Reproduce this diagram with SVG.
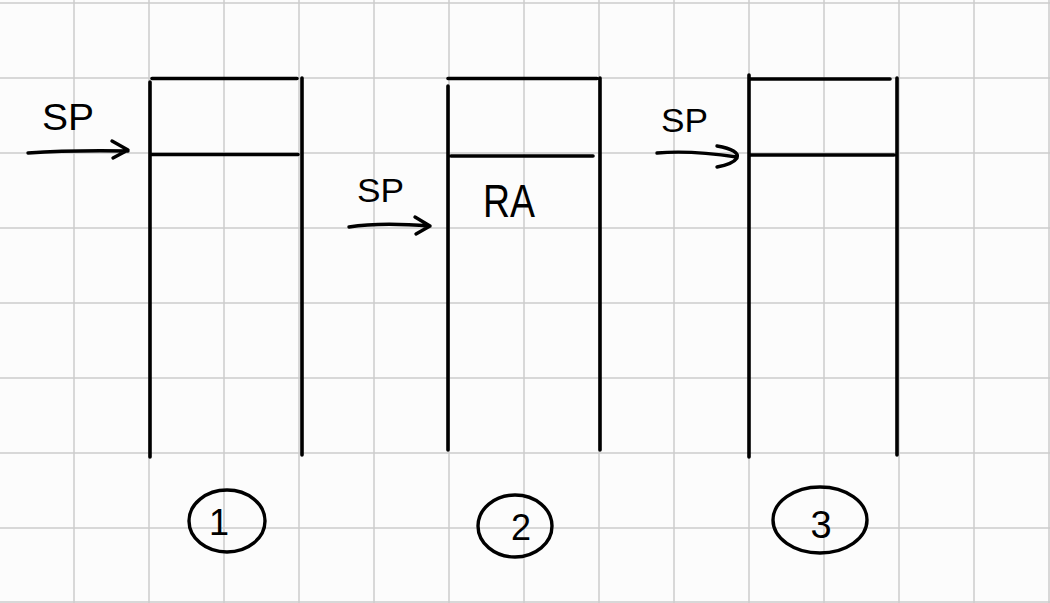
<svg xmlns="http://www.w3.org/2000/svg" width="1050" height="603" viewBox="0 0 1050 603">
<style>
.grid line{stroke:#cdcdcd;stroke-width:1.5}
.ink{stroke:#000;stroke-width:3.6;fill:none;stroke-linecap:round;stroke-linejoin:round}
.pen{stroke:#000;stroke-width:3.4;fill:none;stroke-linecap:round;stroke-linejoin:round}
.lbl{font-family:"Liberation Sans",Arial,sans-serif;fill:#000}
</style>
<rect width="1050" height="603" fill="#fcfcfc"/>
<g class="grid">
<line x1="74" y1="0" x2="74" y2="603"/><line x1="149" y1="0" x2="149" y2="603"/><line x1="224" y1="0" x2="224" y2="603"/><line x1="299" y1="0" x2="299" y2="603"/><line x1="374" y1="0" x2="374" y2="603"/><line x1="449" y1="0" x2="449" y2="603"/><line x1="524" y1="0" x2="524" y2="603"/><line x1="599" y1="0" x2="599" y2="603"/><line x1="674" y1="0" x2="674" y2="603"/><line x1="749" y1="0" x2="749" y2="603"/><line x1="824" y1="0" x2="824" y2="603"/><line x1="899" y1="0" x2="899" y2="603"/><line x1="974" y1="0" x2="974" y2="603"/><line x1="1049" y1="0" x2="1049" y2="603"/>
<line x1="0" y1="3" x2="1050" y2="3"/><line x1="0" y1="78" x2="1050" y2="78"/><line x1="0" y1="153" x2="1050" y2="153"/><line x1="0" y1="228" x2="1050" y2="228"/><line x1="0" y1="303" x2="1050" y2="303"/><line x1="0" y1="378" x2="1050" y2="378"/><line x1="0" y1="453" x2="1050" y2="453"/><line x1="0" y1="528" x2="1050" y2="528"/><line x1="0" y1="602" x2="1050" y2="602"/>
</g>
<g id="stack1">
<path class="ink" d="M152 78.5H297M150 82V457M302 78V455M150 154.5H298"/>
</g>
<g id="stack2">
<path class="ink" d="M448 78.5H597M448 86V450M600 78V450M451 156H593"/>
<text class="lbl" x="483" y="217" font-size="46" textLength="52" lengthAdjust="spacingAndGlyphs">RA</text>
</g>
<g id="stack3">
<path class="ink" d="M749 79H890M749 75V457M897 78V455M749 155H894"/>
</g>
<g id="labels">
<text class="lbl" x="42" y="130" font-size="36" textLength="52" lengthAdjust="spacingAndGlyphs">SP</text>
<text class="lbl" x="357" y="202" font-size="34" textLength="47" lengthAdjust="spacingAndGlyphs">SP</text>
<text class="lbl" x="661" y="132" font-size="34" textLength="47" lengthAdjust="spacingAndGlyphs">SP</text>
</g>
<g id="connectors">
<path class="pen" d="M28 153Q70 150 128 151M112 141L128 150L113 158"/>
<path class="pen" d="M349 227Q380 222 430 226M415 217L430 226L416 234"/>
<path class="pen" d="M657 153Q690 150 737 157M717 146Q740 150 737 158Q733 164 717 167"/>
</g>
<g id="step1">
<ellipse class="pen" cx="227" cy="521" rx="38" ry="31"/>
<text class="lbl" x="219" y="535" font-size="36" text-anchor="middle">1</text>
</g>
<g id="step2">
<ellipse class="pen" cx="515" cy="526" rx="37" ry="31"/>
<text class="lbl" x="521" y="540" font-size="36" text-anchor="middle">2</text>
</g>
<g id="step3">
<ellipse class="pen" cx="820" cy="520" rx="47" ry="33"/>
<text class="lbl" x="821" y="538" font-size="38" text-anchor="middle">3</text>
</g>
</svg>
